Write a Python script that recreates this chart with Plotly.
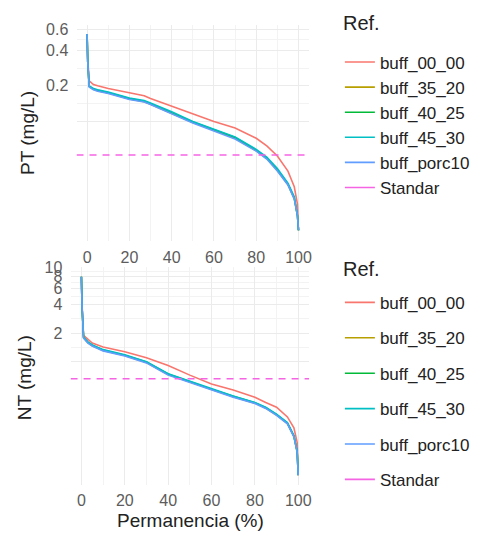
import plotly.graph_objects as go

# ---------------- data ----------------
SERIES = ["buff_00_00", "buff_35_20", "buff_40_25", "buff_45_30", "buff_porc10"]
COLORS = ["#F8766D", "#B79F00", "#00BA38", "#00BFC4", "#619CFF"]
STD_NAME = "Standar"
STD_COLOR = "#F564E3"

X_PT = [0, 0.3, 1, 3, 5, 10, 20, 27, 30, 40, 50, 60, 70, 80, 85, 90, 95, 98, 99.5, 100]
PT_00_00 = [0.55, 0.34, 0.22, 0.205, 0.2, 0.19, 0.175, 0.165, 0.156, 0.134, 0.115, 0.1, 0.088, 0.072, 0.062, 0.051, 0.038, 0.028, 0.02, 0.012]
PT_35_20 = [0.55, 0.32, 0.197, 0.187, 0.182, 0.174, 0.155, 0.147, 0.14, 0.118, 0.098, 0.084, 0.072, 0.0565, 0.0485, 0.0385, 0.0292, 0.0222, 0.016, 0.012]
PT_40_25 = [0.55, 0.32, 0.198, 0.188, 0.183, 0.175, 0.156, 0.148, 0.141, 0.119, 0.099, 0.085, 0.073, 0.057, 0.049, 0.039, 0.0295, 0.0225, 0.016, 0.012]
PT_45_30 = [0.55, 0.32, 0.2, 0.19, 0.185, 0.177, 0.158, 0.15, 0.143, 0.121, 0.1, 0.086, 0.074, 0.058, 0.05, 0.04, 0.030, 0.023, 0.016, 0.012]
PT_PORC10 = [0.55, 0.32, 0.195, 0.185, 0.18, 0.172, 0.153, 0.146, 0.139, 0.117, 0.097, 0.083, 0.071, 0.056, 0.048, 0.038, 0.029, 0.022, 0.016, 0.012]
PT_STD = 0.052

X_NT = [0, 0.3, 1, 3, 5, 10, 20, 30, 40, 50, 60, 70, 80, 85, 90, 95, 98, 99.5, 100]
NT_00_00 = [7.9, 4.0, 1.9, 1.73, 1.57, 1.43, 1.27, 1.1, 0.91, 0.72, 0.58, 0.5, 0.42, 0.37, 0.33, 0.26, 0.2, 0.14, 0.063]
NT_35_20 = [7.9, 3.8, 1.79, 1.59, 1.47, 1.31, 1.16, 0.98, 0.73, 0.61, 0.505, 0.425, 0.364, 0.323, 0.273, 0.222, 0.162, 0.111, 0.063]
NT_40_25 = [7.9, 3.8, 1.8, 1.6, 1.49, 1.33, 1.17, 0.99, 0.74, 0.61, 0.51, 0.43, 0.367, 0.326, 0.275, 0.224, 0.163, 0.112, 0.063]
NT_45_30 = [7.9, 3.8, 1.82, 1.62, 1.5, 1.34, 1.18, 1.0, 0.745, 0.62, 0.515, 0.433, 0.37, 0.33, 0.278, 0.227, 0.165, 0.113, 0.063]
NT_PORC10 = [7.9, 3.8, 1.77, 1.57, 1.46, 1.3, 1.15, 0.97, 0.72, 0.6, 0.5, 0.42, 0.36, 0.32, 0.27, 0.22, 0.16, 0.11, 0.063]
NT_STD = 0.66

X_TICKS = [0, 20, 40, 60, 80, 100]
X_MINOR = [10, 30, 50, 70, 90]
PT_TICKS = [0.1, 0.2, 0.4, 0.6]
PT_TICKTEXT = ["", "0.2", "0.4", "0.6"]
PT_MINOR = [0.1414, 0.283, 0.49]
NT_TICKS = [1, 2, 4, 6, 8, 10]
NT_TICKTEXT = ["", "2", "4", "6", "8", "10"]
NT_MINOR = [1.414, 2.83, 4.9, 6.93, 8.94]

X_RANGE = [-5, 105]

PT_DATA = [PT_00_00, PT_35_20, PT_40_25, PT_45_30, PT_PORC10]
NT_DATA = [NT_00_00, NT_35_20, NT_40_25, NT_45_30, NT_PORC10]

# ---------------- figure ----------------
W, H = 485, 540
FONT = "Liberation Sans, Arial, sans-serif"
TICKC = "#5c5c5c"
GRID = "#EBEBEB"

fig = go.Figure()


def add_panel(xs, data, std, xa, ya, leg, grp):
    for i, (name, col) in enumerate(zip(SERIES, COLORS)):
        fig.add_trace(go.Scatter(x=xs, y=data[i], mode="lines", name=name,
                                 line=dict(color=col, width=1.6), xaxis=xa, yaxis=ya,
                                 legend=leg, legendgroup="%s%d" % (grp, i)))
    # standard reference line (dashed), legend shown with a solid key
    fig.add_trace(go.Scatter(x=X_RANGE, y=[std, std], mode="lines", name=STD_NAME,
                             line=dict(color=STD_COLOR, width=1.6, dash="7px,6px"),
                             xaxis=xa, yaxis=ya, legend=leg, legendgroup="%s5" % grp,
                             showlegend=False))
    fig.add_trace(go.Scatter(x=[None], y=[None], mode="lines", name=STD_NAME,
                             line=dict(color=STD_COLOR, width=1.6),
                             xaxis=xa, yaxis=ya, legend=leg, legendgroup="%s5" % grp))


add_panel(X_PT, PT_DATA, PT_STD, "x", "y", "legend", "a")
add_panel(X_NT, NT_DATA, NT_STD, "x2", "y2", "legend2", "b")


def px_x(p):
    return p / W


def px_y(p):
    return 1 - p / H


xcommon = dict(range=X_RANGE, tickvals=X_TICKS, showgrid=True, gridcolor=GRID, gridwidth=1,
               zeroline=False, showline=False, ticks="outside", ticklen=1,
               tickcolor="rgba(0,0,0,0)",
               tickfont=dict(family=FONT, size=16, color=TICKC),
               minor=dict(tickmode="array", tickvals=X_MINOR, showgrid=True,
                          gridcolor="#F3F3F3", gridwidth=1, ticks=""))

ycommon = dict(type="log", showgrid=True, gridcolor=GRID, zeroline=False, ticks="outside",
               ticklen=4, tickcolor="rgba(0,0,0,0)",
               tickfont=dict(family=FONT, size=16, color=TICKC))

fig.update_layout(
    width=W, height=H, margin=dict(l=0, r=0, t=0, b=0),
    paper_bgcolor="white", plot_bgcolor="white",
    font=dict(family=FONT, color="#222"),
    showlegend=True,
    xaxis=dict(domain=[px_x(77), px_x(311)], anchor="y", **xcommon),
    xaxis2=dict(domain=[px_x(71), px_x(311)], anchor="y2", **xcommon),
    yaxis=dict(domain=[px_y(237), px_y(17)], anchor="x",
               range=[-2.016, -0.182], tickvals=PT_TICKS, ticktext=PT_TICKTEXT,
               minor=dict(tickmode="array", tickvals=PT_MINOR, showgrid=True,
                          gridcolor="#F3F3F3", ticks=""), **ycommon),
    yaxis2=dict(domain=[px_y(484), px_y(263)], anchor="x2",
                range=[-1.303, 1.0], tickvals=NT_TICKS, ticktext=NT_TICKTEXT,
                minor=dict(tickmode="array", tickvals=NT_MINOR, showgrid=True,
                           gridcolor="#F3F3F3", ticks=""), **ycommon),
    legend=dict(x=px_x(342), y=px_y(37), xanchor="left", yanchor="top",
                font=dict(family=FONT, size=17, color="#222"),
                tracegroupgap=0, itemwidth=30, bgcolor="rgba(0,0,0,0)"),
    legend2=dict(x=px_x(342), y=px_y(281), xanchor="left", yanchor="top",
                 font=dict(family=FONT, size=17, color="#222"),
                 tracegroupgap=10.3, itemwidth=30, bgcolor="rgba(0,0,0,0)"),
    annotations=[
        dict(text="Ref.", x=px_x(343), y=px_y(15), xref="paper", yref="paper",
             xanchor="left", yanchor="middle", showarrow=False,
             font=dict(family=FONT, size=20, color="#222")),
        dict(text="Ref.", x=px_x(343), y=px_y(265), xref="paper", yref="paper",
             xanchor="left", yanchor="middle", showarrow=False,
             font=dict(family=FONT, size=20, color="#222")),
        dict(text="PT (mg/L)", x=px_x(27), y=px_y(127), xref="paper", yref="paper",
             xanchor="center", yanchor="middle", textangle=-90, showarrow=False,
             font=dict(family=FONT, size=19, color="#222")),
        dict(text="NT (mg/L)", x=px_x(25), y=px_y(375), xref="paper", yref="paper",
             xanchor="center", yanchor="middle", textangle=-90, showarrow=False,
             font=dict(family=FONT, size=19, color="#222")),
        dict(text="Permanencia (%)", x=px_x(192), y=px_y(520), xref="paper", yref="paper",
             xanchor="center", yanchor="middle", showarrow=False,
             font=dict(family=FONT, size=19, color="#222")),
    ],
)

fig.write_html("out.html")
